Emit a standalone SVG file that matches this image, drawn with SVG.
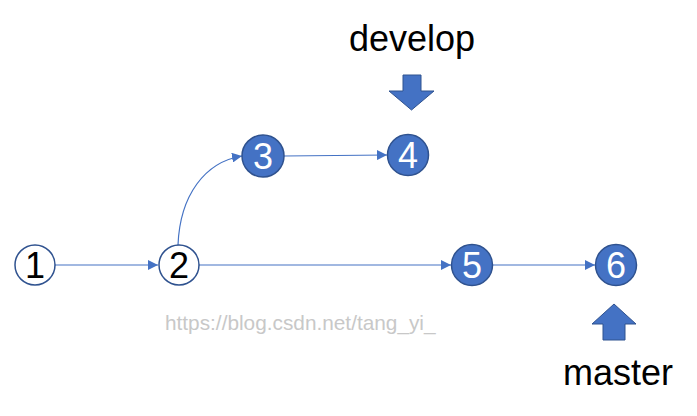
<svg xmlns="http://www.w3.org/2000/svg" width="697" height="416" viewBox="0 0 697 416">
<defs>
<style>
.n{stroke:#2F528F;stroke-width:1.5}
.w{fill:#ffffff}
.b{fill:#4472C4}
.d{font-family:"Liberation Sans",Arial,sans-serif;font-size:36px;text-anchor:middle}
.dw{fill:#ffffff}
.dk{fill:#000000}
.lbl{font-family:"Liberation Sans",Arial,sans-serif;font-size:36px;fill:#000000;text-anchor:middle}
.c{fill:none;stroke:#4472C4;stroke-width:1.2}
.blk{fill:#4472C4;stroke:#2F528F;stroke-width:1}
</style>
<marker id="ah" viewBox="0 0 10 10" refX="10" refY="5" markerWidth="10" markerHeight="10" markerUnits="userSpaceOnUse" orient="auto">
<path d="M0,0 L10,5 L0,10 Z" fill="#4472C4"/>
</marker>
</defs>
<rect width="697" height="416" fill="#ffffff"/>
<g id="connectors">
<line class="c" x1="55" y1="265" x2="158" y2="265" marker-end="url(#ah)"/>
<path class="c" d="M178,245 C180,195 205,162 242,156" marker-end="url(#ah)"/>
<line class="c" x1="284" y1="156" x2="387" y2="155" marker-end="url(#ah)"/>
<line class="c" x1="199" y1="265" x2="451" y2="265" marker-end="url(#ah)"/>
<line class="c" x1="493" y1="265" x2="595" y2="265" marker-end="url(#ah)"/>
</g>
<g id="node1"><circle class="n w" cx="35" cy="265" r="20"/><text class="d dk" x="35" y="278">1</text></g>
<g id="node2"><circle class="n w" cx="179" cy="265" r="20"/><text class="d dk" x="179" y="278">2</text></g>
<g id="node3"><circle class="n b" cx="263" cy="156" r="21"/><text class="d dw" x="263" y="169">3</text></g>
<g id="node4"><circle class="n b" cx="408" cy="155" r="20.5"/><text class="d dw" x="408" y="168">4</text></g>
<g id="node5"><circle class="n b" cx="472" cy="265" r="20.5"/><text class="d dw" x="472" y="278">5</text></g>
<g id="node6"><circle class="n b" cx="616" cy="265" r="20.5"/><text class="d dw" x="616" y="278">6</text></g>
<g id="develop">
<text class="lbl" x="412" y="51">develop</text>
<path class="blk" d="M403,75 L421,75 L421,91 L434,91 L411.5,110 L389,91 L403,91 Z"/>
</g>
<g id="master">
<path class="blk" d="M614,304 L636,324 L625,324 L625,340 L603,340 L603,324 L592,324 Z"/>
<text class="lbl" x="618" y="385">master</text>
</g>
<text x="165" y="330" font-family="'Liberation Sans',Arial,sans-serif" font-size="20.8" fill="#c8c8c8">https://blog.csdn.net/tang_yi_</text>
</svg>
